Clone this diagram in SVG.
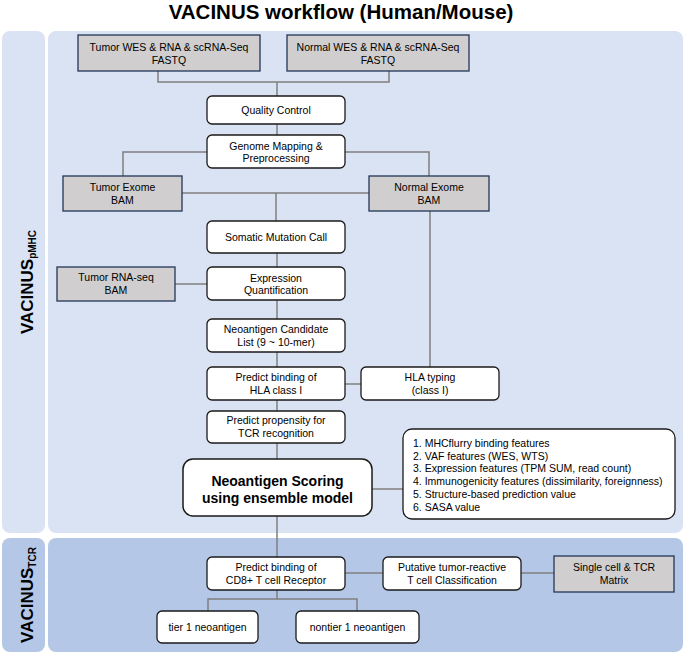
<svg xmlns="http://www.w3.org/2000/svg" width="685" height="654" viewBox="0 0 685 654">
<style>
text{font-family:"Liberation Sans",Arial,sans-serif;fill:#000}
.t{font-size:10.5px;text-anchor:middle}
.f{font-size:10.5px}
.w{fill:#fff;stroke:#1a1a1a;stroke-width:1.3}
.g{fill:#d0cece;stroke:#233656;stroke-width:1.3}
.c{fill:none;stroke:#7f7f7f;stroke-width:1.5}
.lab{font-size:17px;font-weight:bold;text-anchor:middle}
</style>
<rect width="685" height="654" fill="#fff"/>
<text x="341" y="19" style="font-size:20.5px;font-weight:bold;text-anchor:middle">VACINUS  workflow (Human/Mouse)</text>
<g id="panels">
<rect x="2" y="31" width="43" height="502" rx="8" fill="#dae3f3"/>
<rect x="48" y="31" width="635" height="502" rx="8" fill="#dae3f3"/>
<rect x="2" y="538" width="43" height="114" rx="8" fill="#b4c7e7"/>
<rect x="48" y="538" width="635" height="114" rx="8" fill="#b4c7e7"/>
<text class="lab" transform="translate(33,282) rotate(-90)">VACINUS<tspan dy="3" style="font-size:10px">pMHC</tspan></text>
<text class="lab" transform="translate(33,595) rotate(-90)">VACINUS<tspan dy="3" style="font-size:10px">TCR</tspan></text>
</g>
<g id="connectors">
<polyline class="c" points="158,71 158,82 389,82 389,71"/>
<line class="c" x1="277" y1="82" x2="277" y2="96"/>
<line class="c" x1="277" y1="124" x2="277" y2="135"/>
<polyline class="c" points="207,152 123,152 123,176"/>
<polyline class="c" points="345,152 429,152 429,176"/>
<line class="c" x1="182" y1="193" x2="369" y2="193"/>
<line class="c" x1="276" y1="193" x2="276" y2="221"/>
<line class="c" x1="277" y1="253" x2="277" y2="267"/>
<line class="c" x1="175" y1="284" x2="207" y2="284"/>
<line class="c" x1="277" y1="300" x2="277" y2="319"/>
<line class="c" x1="277" y1="352" x2="277" y2="367"/>
<line class="c" x1="430" y1="211" x2="430" y2="367"/>
<line class="c" x1="345" y1="384" x2="361" y2="384"/>
<line class="c" x1="277" y1="400" x2="277" y2="411"/>
<line class="c" x1="277" y1="443" x2="277" y2="459"/>
<line class="c" x1="372" y1="489" x2="403" y2="489"/>
<line class="c" x1="277" y1="516" x2="277" y2="557"/>
<line class="c" x1="345" y1="573" x2="383" y2="573"/>
<line class="c" x1="521" y1="573" x2="554" y2="573"/>
<line class="c" x1="277" y1="590" x2="277" y2="599"/>
<polyline class="c" points="208,611 208,599 357,599 357,611"/>
</g>
<g id="tumor-fastq"><rect class="g" x="78" y="35" width="182" height="36"/><text class="t" x="169" y="50.8">Tumor WES &amp; RNA &amp; scRNA-Seq</text><text class="t" x="169" y="63.8">FASTQ</text></g>
<g id="normal-fastq"><rect class="g" x="287" y="35" width="182" height="36"/><text class="t" x="378" y="50.8">Normal WES &amp; RNA &amp; scRNA-Seq</text><text class="t" x="378" y="63.8">FASTQ</text></g>
<g id="qc"><rect class="w" x="207" y="96" width="138" height="28" rx="5"/><text class="t" x="276" y="113.8">Quality Control</text></g>
<g id="mapping"><rect class="w" x="207" y="135" width="138" height="33" rx="5"/><text class="t" x="276" y="149.5">Genome Mapping &amp;</text><text class="t" x="276" y="161.5">Preprocessing</text></g>
<g id="tumor-exome"><rect class="g" x="63" y="176" width="119" height="35"/><text class="t" x="122.5" y="190.5">Tumor Exome</text><text class="t" x="122.5" y="203.8">BAM</text></g>
<g id="normal-exome"><rect class="g" x="369" y="176" width="120" height="35"/><text class="t" x="429" y="190.5">Normal Exome</text><text class="t" x="429" y="203.8">BAM</text></g>
<g id="somatic"><rect class="w" x="207" y="221" width="138" height="32" rx="5"/><text class="t" x="276" y="240.5">Somatic Mutation Call</text></g>
<g id="expression"><rect class="w" x="207" y="267" width="138" height="33" rx="5"/><text class="t" x="276" y="281.5">Expression</text><text class="t" x="276" y="294">Quantification</text></g>
<g id="tumor-rna"><rect class="g" x="57" y="267" width="118" height="34"/><text class="t" x="116" y="281.2">Tumor RNA-seq</text><text class="t" x="116" y="294">BAM</text></g>
<g id="candidate"><rect class="w" x="207" y="319" width="138" height="33" rx="5"/><text class="t" x="276" y="333">Neoantigen Candidate</text><text class="t" x="276" y="345.8">List (9 ~ 10-mer)</text></g>
<g id="predict-hla"><rect class="w" x="207" y="367" width="138" height="33" rx="5"/><text class="t" x="276" y="380.5">Predict binding of</text><text class="t" x="276" y="393.8">HLA class I</text></g>
<g id="hla-typing"><rect class="w" x="361" y="367" width="138" height="33" rx="5"/><text class="t" x="430" y="380.5">HLA typing</text><text class="t" x="430" y="393.8">(class I)</text></g>
<g id="propensity"><rect class="w" x="207" y="411" width="138" height="32" rx="5"/><text class="t" x="276" y="423.8">Predict propensity for</text><text class="t" x="276" y="437">TCR recognition</text></g>
<g id="scoring"><rect class="w" x="183" y="459" width="189" height="57" rx="10" style="stroke-width:1.5"/><text class="t" x="277.5" y="485.5" style="font-size:14px;font-weight:bold">Neoantigen Scoring</text><text class="t" x="277.5" y="502.5" style="font-size:14px;font-weight:bold">using ensemble model</text></g>
<g id="features"><rect class="w" x="403" y="429" width="272" height="90" rx="9"/>
<text class="f" x="413" y="446.8">1. MHCflurry binding features</text>
<text class="f" x="413" y="459.6">2. VAF features (WES, WTS)</text>
<text class="f" x="413" y="472.4">3. Expression features (TPM SUM, read count)</text>
<text class="f" x="413" y="485.2">4. Immunogenicity features (dissimilarity, foreignness)</text>
<text class="f" x="413" y="498">5. Structure-based prediction value</text>
<text class="f" x="413" y="510.8">6. SASA value</text></g>
<g id="cd8"><rect class="w" x="207" y="557" width="138" height="33" rx="5"/><text class="t" x="276" y="570.5">Predict binding of</text><text class="t" x="276" y="584">CD8+ T cell Receptor</text></g>
<g id="putative"><rect class="w" x="383" y="557" width="138" height="33" rx="5"/><text class="t" x="452" y="570.5">Putative tumor-reactive</text><text class="t" x="452" y="584">T cell Classification</text></g>
<g id="single-cell"><rect class="g" x="554" y="556" width="120" height="36"/><text class="t" x="614" y="570.5">Single cell &amp; TCR</text><text class="t" x="614" y="584">Matrix</text></g>
<g id="tier1"><rect class="w" x="157" y="611" width="101" height="32" rx="5"/><text class="t" x="207.5" y="631">tier 1 neoantigen</text></g>
<g id="nontier1"><rect class="w" x="296" y="611" width="123" height="32" rx="5"/><text class="t" x="357.5" y="631">nontier 1 neoantigen</text></g>
</svg>
